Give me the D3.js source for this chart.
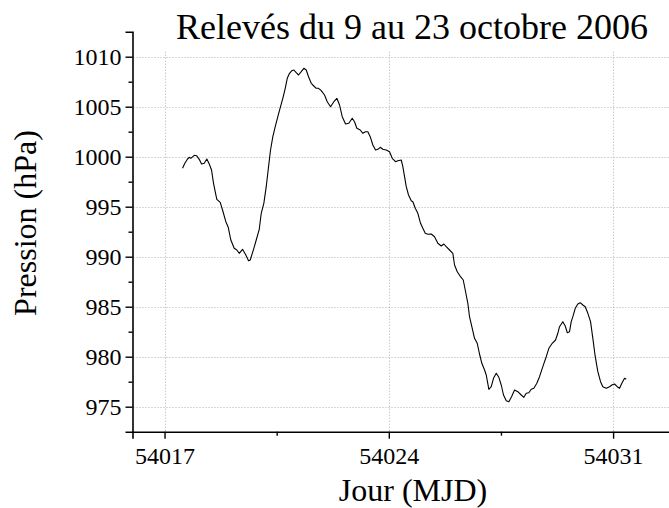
<!DOCTYPE html>
<html>
<head>
<meta charset="utf-8">
<script src="https://cdn.jsdelivr.net/npm/d3@7"></script>
<style>
  html, body { margin: 0; padding: 0; background: #fff; }
  svg { display: block; }
  text { font-family: "Liberation Serif", "Times New Roman", serif; fill: #000; }
</style>
</head>
<body>
<div id="chart"></div>
<script>
// Atmospheric pressure record, 9-23 October 2006 (MJD vs hPa)
const mjd = [
  54017.562, 54017.634, 54017.718, 54017.771, 54017.821, 54017.927, 54017.999, 54018.083,
  54018.155, 54018.239, 54018.320, 54018.395, 54018.467, 54018.529, 54018.592, 54018.632,
  54018.738, 54018.810, 54018.913, 54018.988, 54019.069, 54019.175, 54019.257, 54019.331,
  54019.434, 54019.537, 54019.622, 54019.675, 54019.778, 54019.862, 54019.956, 54020.018,
  54020.099, 54020.174, 54020.246, 54020.308, 54020.380, 54020.455, 54020.536, 54020.620,
  54020.692, 54020.767, 54020.830, 54020.901, 54020.973, 54021.036, 54021.111, 54021.182,
  54021.267, 54021.348, 54021.423, 54021.494, 54021.579, 54021.660, 54021.735, 54021.806,
  54021.891, 54021.994, 54022.078, 54022.181, 54022.284, 54022.378, 54022.462, 54022.546,
  54022.649, 54022.752, 54022.858, 54022.930, 54023.002, 54023.108, 54023.189, 54023.273,
  54023.345, 54023.420, 54023.501, 54023.586, 54023.657, 54023.732, 54023.813, 54023.919,
  54024.022, 54024.107, 54024.210, 54024.282, 54024.388, 54024.438, 54024.491, 54024.544,
  54024.615, 54024.700, 54024.750, 54024.825, 54024.906, 54024.990, 54025.062, 54025.137,
  54025.218, 54025.324, 54025.427, 54025.530, 54025.636, 54025.717, 54025.792, 54025.895,
  54025.998, 54026.051, 54026.136, 54026.238, 54026.323, 54026.385, 54026.466, 54026.519,
  54026.591, 54026.675, 54026.760, 54026.831, 54026.903, 54026.988, 54027.041, 54027.122,
  54027.197, 54027.268, 54027.353, 54027.434, 54027.509, 54027.580, 54027.665, 54027.746,
  54027.830, 54027.924, 54028.027, 54028.133, 54028.214, 54028.289, 54028.370, 54028.445,
  54028.526, 54028.620, 54028.704, 54028.807, 54028.913, 54028.995, 54029.101, 54029.204,
  54029.275, 54029.328, 54029.431, 54029.506, 54029.569, 54029.640, 54029.693, 54029.744,
  54029.819, 54029.899, 54029.974, 54030.056, 54030.130, 54030.212, 54030.296, 54030.368,
  54030.443, 54030.524, 54030.608, 54030.680, 54030.786, 54030.889, 54030.961, 54031.045,
  54031.129, 54031.201, 54031.273, 54031.357, 54031.410
];
const pressure = [
   998.84,  999.34,  999.77,  999.94,  999.84, 1000.14, 1000.10,  999.74,
   999.27,  999.34,  999.77,  999.27,  998.67,  997.34,  996.34,  995.74,
   995.44,  994.67,  993.50,  992.94,  991.67,  990.84,  990.67,  990.34,
   990.74,  990.17,  989.60,  989.67,  990.74,  991.67,  992.74,  994.34,
   995.34,  997.00,  999.00, 1000.67, 1002.00, 1003.00, 1004.00, 1005.00,
  1005.84, 1006.84, 1007.84, 1008.34, 1008.60, 1008.67, 1008.40, 1008.17,
  1008.50, 1008.84, 1008.67, 1008.00, 1007.34, 1007.07, 1006.84, 1006.84,
  1006.60, 1006.17, 1005.50, 1005.00, 1005.50, 1005.84, 1005.17, 1004.00,
  1003.27, 1003.34, 1003.84, 1003.50, 1002.84, 1002.67, 1002.34, 1002.50,
  1002.50, 1002.00, 1001.17, 1000.67, 1000.74, 1000.94, 1000.74, 1000.67,
  1000.50,  999.84,  999.50,  999.60,  999.67,  999.00,  998.00,  997.00,
   996.17,  995.60,  995.50,  994.84,  994.34,  993.34,  992.84,  992.34,
   992.24,  992.27,  992.00,  991.34,  991.07,  991.27,  991.00,  990.67,
   990.34,  989.17,  988.50,  988.00,  987.67,  986.67,  985.34,  984.00,
   983.00,  981.84,  981.34,  980.27,  979.34,  978.67,  978.17,  976.74,
   977.00,  977.84,  978.34,  977.94,  977.17,  976.17,  975.60,  975.50,
   976.00,  976.67,  976.50,  976.17,  975.94,  976.34,  976.40,  976.74,
   976.84,  977.34,  978.00,  979.00,  980.00,  980.84,  981.34,  981.67,
   982.34,  983.00,  983.50,  983.07,  982.40,  982.50,  983.50,  984.00,
   984.84,  985.27,  985.40,  985.17,  985.00,  984.34,  983.50,  981.84,
   980.00,  978.50,  977.50,  977.00,  976.84,  977.00,  977.17,  977.27,
   977.00,  976.84,  977.34,  977.84,  977.74
];

const xMajorTicks = [54017, 54024, 54031];
const xMinorTicks = [54020.5, 54027.5];
const yMajorTicks = [975, 980, 985, 990, 995, 1000, 1005, 1010];
const yMinorTicks = [977.5, 982.5, 987.5, 992.5, 997.5, 1002.5, 1007.5];

const titleText = "Relevés du 9 au 23 octobre 2006";
const xLabel = "Jour (MJD)";
const yLabel = "Pression (hPa)";

const serif = '"Liberation Serif", "Times New Roman", Times, serif';
const W = 669, H = 508;
const plotLeft = 132.5, plotTop = 31.7, plotBottom = 431.7;

const x = d3.scaleLinear().domain([54016, 54033.5]).range([plotLeft, plotLeft + 17.5 * 32.04]);
const y = d3.scaleLinear().domain([972.5, 1012.5]).range([plotBottom, plotTop]);

const svg = d3.select("#chart").append("svg")
  .attr("width", W).attr("height", H);

// dotted grid
const grid = svg.append("g").attr("stroke", "#b0b0b0").attr("stroke-width", 1)
  .attr("stroke-dasharray", "1,2");
grid.selectAll("line.h").data(yMajorTicks).join("line").attr("class", "h")
  .attr("x1", plotLeft + 1).attr("x2", W)
  .attr("y1", d => Math.round(y(d)) + 0.5).attr("y2", d => Math.round(y(d)) + 0.5);
grid.selectAll("line.v").data(xMajorTicks).join("line").attr("class", "v")
  .attr("x1", d => Math.round(x(d)) + 0.5).attr("x2", d => Math.round(x(d)) + 0.5)
  .attr("y1", y(1010.5)).attr("y2", plotBottom - 1);

// pressure curve
const line = d3.line().x((d, i) => x(mjd[i])).y(d => y(d));
svg.append("path").datum(pressure)
  .attr("d", line).attr("fill", "none").attr("stroke", "#000")
  .attr("stroke-width", 1.1).attr("stroke-linejoin", "round");

// y axis
const yAxis = d3.axisLeft(y).tickValues(yMajorTicks).tickSize(7).tickPadding(4)
  .tickFormat(d3.format("d"));
const gy = svg.append("g").attr("transform", `translate(${plotLeft},0)`).call(yAxis)
  .attr("font-family", serif).attr("font-size", 24);
gy.select(".domain").attr("stroke-width", 1.6);
gy.selectAll(".tick line").attr("stroke-width", 1.4);
svg.append("g").attr("transform", `translate(${plotLeft},0)`)
  .call(d3.axisLeft(y).tickValues(yMinorTicks).tickSize(4).tickFormat(""))
  .call(g => g.select(".domain").remove())
  .selectAll(".tick line").attr("stroke-width", 1.4);

// x axis
const xAxis = d3.axisBottom(x).tickValues(xMajorTicks).tickSize(7).tickPadding(8)
  .tickFormat(d3.format("d"));
const gx = svg.append("g").attr("transform", `translate(0,${plotBottom})`).call(xAxis)
  .attr("font-family", serif).attr("font-size", 24);
gx.select(".domain").attr("stroke-width", 1.6);
gx.selectAll(".tick line").attr("stroke-width", 1.4);
svg.append("g").attr("transform", `translate(0,${plotBottom})`)
  .call(d3.axisBottom(x).tickValues(xMinorTicks).tickSize(4).tickFormat(""))
  .call(g => g.select(".domain").remove())
  .selectAll(".tick line").attr("stroke-width", 1.4);

// titles
svg.append("text").attr("x", 412).attr("y", 39).attr("text-anchor", "middle")
  .attr("font-family", serif).attr("font-size", 36).text(titleText);
svg.append("text").attr("x", 413).attr("y", 501).attr("text-anchor", "middle")
  .attr("font-family", serif).attr("font-size", 32).text(xLabel);
svg.append("text").attr("transform", "translate(36,223) rotate(-90)")
  .attr("text-anchor", "middle").attr("font-family", serif).attr("font-size", 32).text(yLabel);
</script>
</body>
</html>
